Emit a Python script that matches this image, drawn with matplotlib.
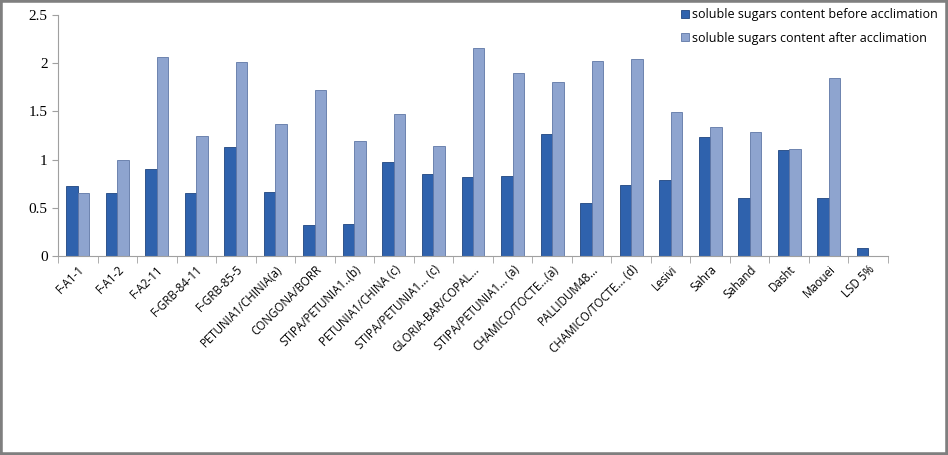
import matplotlib
matplotlib.use("Agg")
import matplotlib.pyplot as plt
import numpy as np

categories = ["F-A1-1", "F-A1-2", "F-A2-11", "F-GRB-84-11", "F-GRB-85-5",
              "PETUNIA1/CHINIA(a)", "CONGONA/BORR", "STIPA/PETUNIA1..(b)",
              "PETUNIA1/CHINA (c)", "STIPA/PETUNIA1... (c)", "GLORIA-BAR/COPAL...",
              "STIPA/PETUNIA1... (a)", "CHAMICO/TOCTE...(a)", "PALLIDUM48...",
              "CHAMICO/TOCTE... (d)", "Lesivi", "Sahra", "Sahand", "Dasht",
              "Maouei", "LSD 5%"]
before = [0.73, 0.655, 0.90, 0.655, 1.13, 0.665, 0.32, 0.33, 0.98, 0.85, 0.82,
          0.835, 1.265, 0.55, 0.74, 0.785, 1.235, 0.60, 1.10, 0.60, 0.086]
after = [0.655, 1.0, 2.06, 1.25, 2.01, 1.37, 1.72, 1.19, 1.47, 1.145, 2.155,
         1.90, 1.81, 2.02, 2.04, 1.49, 1.34, 1.29, 1.11, 1.845, np.nan]

fig = plt.figure(figsize=(9.48, 4.55), dpi=100)
ax = fig.add_axes([58 / 948, 1 - 256 / 455, (888 - 58) / 948, (256 - 15) / 455])

x = np.arange(len(categories))
w = 0.29
ax.bar(x - w / 2, before, w, color="#2f62ad", edgecolor="#1f4580", linewidth=0.6,
       label="soluble sugars content before acclimation")
ax.bar(x + w / 2, after, w, color="#8ea4cf", edgecolor="#5f77a6", linewidth=0.6,
       label="soluble sugars content after acclimation")

ax.set_xlim(-0.5, len(categories) - 0.5)
ax.set_ylim(0, 2.5)
ax.set_yticks([0, 0.5, 1, 1.5, 2, 2.5])
ax.set_yticklabels(["0", "0.5", "1", "1.5", "2", "2.5"], family="Liberation Serif", fontsize=11)

ax.set_xticks(x)
ax.set_xticklabels(categories, rotation=45, ha="right", rotation_mode="anchor",
                   fontsize=8.3, family="Open Sans")
ax.tick_params(axis="x", length=0, pad=5)
ax.set_xticks(np.arange(-0.5, len(categories)), minor=True)
ax.tick_params(axis="x", which="minor", length=5, color="#a0a0a0")
ax.tick_params(axis="y", length=4, color="#a0a0a0")

for s in ["top", "right"]:
    ax.spines[s].set_visible(False)
ax.spines["left"].set_color("#a0a0a0")
ax.spines["bottom"].set_color("#a0a0a0")

leg = ax.legend(loc="upper left", bbox_to_anchor=(612 / 830, 1.075), frameon=False,
                prop={"family": "Open Sans", "size": 9}, handlelength=0.6,
                handleheight=0.6, handletextpad=0.3, labelspacing=0.85)

fig.patches.append(plt.Rectangle((0, 0), 1, 1, transform=fig.transFigure,
                                 fill=False, edgecolor="#7f7f7f", linewidth=4))

fig.savefig("out.png", dpi=100)
